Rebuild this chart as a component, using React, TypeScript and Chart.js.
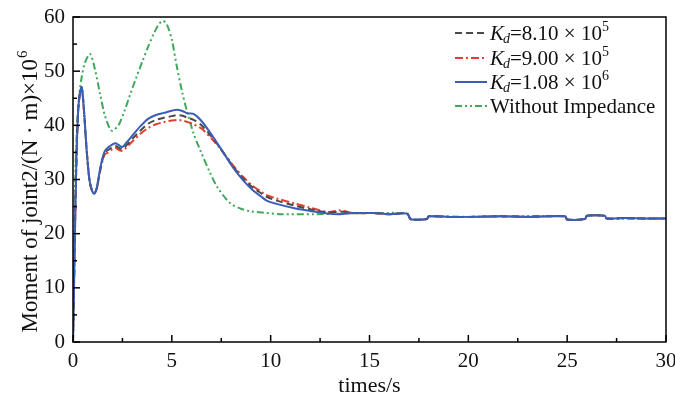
import React, { useEffect, useRef } from "react";
import { Chart, registerables } from "chart.js";

Chart.register(...registerables);

const timeKd = [0, 0.05, 0.15, 0.25, 0.35, 0.44, 0.55, 0.7, 0.85, 1.0, 1.08, 1.2, 1.4, 1.6, 1.8, 2.0, 2.15, 2.3, 2.5, 2.7, 3.0, 3.4, 3.8, 4.2, 4.6, 5.0, 5.25, 5.5, 5.8, 6.1, 6.5, 7.1, 7.6, 8.1, 8.6, 9.1, 9.5, 9.8, 10.3, 11.2, 12.0, 12.9, 13.5, 14.2, 15.2, 16.0, 16.9, 17.05, 17.15, 17.9, 18.0, 19, 20, 21.6, 23, 24.9, 25.0, 25.9, 26.0, 26.9, 27.0, 28, 29, 30];

const kd810 = [0, 10, 30, 42, 46, 47, 43, 35, 29.5, 27.6, 27.4, 28.3, 32.2, 34.9, 35.5, 36.0, 36.2, 35.9, 35.6, 36.3, 37.5, 39.0, 40.3, 41.0, 41.4, 41.7, 41.9, 41.8, 41.4, 41.0, 40.0, 37.5, 35.0, 32.4, 30.2, 28.5, 27.5, 26.8, 26.1, 25.2, 24.5, 23.9, 24.1, 23.8, 23.8, 23.6, 23.7, 22.8, 22.6, 22.7, 23.2, 23.1, 23.1, 23.2, 23.1, 23.2, 22.6, 22.7, 23.3, 23.3, 22.8, 22.9, 22.8, 22.8];

const kd900 = [0, 10, 30, 42, 46, 47, 43, 35, 29.5, 27.6, 27.4, 28.2, 32.0, 34.6, 35.0, 35.6, 35.8, 35.5, 35.3, 35.9, 37.0, 38.4, 39.5, 40.2, 40.6, 40.9, 41.0, 40.9, 40.6, 40.2, 39.4, 37.2, 35.0, 32.6, 30.5, 28.8, 27.8, 27.1, 26.5, 25.6, 24.8, 24.0, 24.3, 23.8, 23.8, 23.6, 23.7, 22.8, 22.6, 22.7, 23.2, 23.1, 23.1, 23.2, 23.1, 23.2, 22.6, 22.7, 23.3, 23.3, 22.8, 22.9, 22.8, 22.8];

const kd108 = [0, 10, 30, 42, 46, 47, 43, 35, 29.5, 27.6, 27.4, 28.5, 32.5, 35.2, 36.0, 36.5, 36.7, 36.4, 36.0, 36.8, 38.1, 39.8, 41.2, 41.9, 42.3, 42.7, 42.9, 42.7, 42.2, 42.1, 40.8, 37.8, 35.0, 32.2, 29.9, 28.0, 26.9, 26.1, 25.5, 24.7, 24.2, 23.7, 23.6, 23.8, 23.8, 23.6, 23.7, 22.8, 22.6, 22.7, 23.2, 23.1, 23.1, 23.2, 23.1, 23.2, 22.6, 22.7, 23.3, 23.3, 22.8, 22.9, 22.8, 22.8];

const timeFree = [0, 0.05, 0.15, 0.3, 0.44, 0.6, 0.86, 1.1, 1.37, 1.6, 1.88, 2.0, 2.3, 2.6, 2.9, 3.2, 3.5, 3.8, 4.1, 4.35, 4.55, 4.75, 5.0, 5.25, 5.5, 5.76, 6.1, 6.44, 6.9, 7.3, 7.96, 8.5, 9.0, 9.6, 10.5, 12.2, 13.5, 14.5, 15.2, 16.9, 17.05, 17.15, 17.9, 18, 20, 22, 24.9, 25, 25.9, 26, 26.9, 27, 30];
const freeVals = [0, 15, 35, 45, 48.9, 51.5, 53.2, 50.5, 45.8, 42, 39.2, 39.0, 40.0, 42.6, 45.8, 48.8, 51.7, 54.5, 57.0, 58.7, 59.3, 58.6, 55.8, 50.9, 46.5, 42.7, 38.5, 35.4, 31.5, 28.6, 25.6, 24.6, 24.1, 23.9, 23.6, 23.6, 23.7, 23.8, 23.8, 23.7, 22.8, 22.6, 22.7, 23.2, 23.1, 23.2, 23.2, 22.6, 22.7, 23.3, 23.3, 22.8, 22.8];

const xTicks = [0, 5, 10, 15, 20, 25, 30];
const yTicks = [0, 10, 20, 30, 40, 50, 60];
const legendMantissa = ["8.10", "9.00", "1.08"];
const legendExponent = ["5", "5", "6"];
const legendFree = "Without Impedance";
const yTitleMain = "Moment of joint2/(N · m)×10";
const yTitleSup = "6";

const FONT = '"Liberation Serif", "Times New Roman", serif';

const pts = (t: number[], v: number[]) => t.map((x, i) => ({ x, y: v[i] }));

const decor = {
  id: "decor",
  afterDatasetsDraw(chart: any) {
    const { ctx, chartArea: a, scales } = chart;
    const xs = scales.x, ys = scales.y;
    ctx.save();
    ctx.strokeStyle = "#000";
    ctx.lineWidth = 1.5;
    ctx.setLineDash([]);
    ctx.strokeRect(a.left, a.top, a.right - a.left, a.bottom - a.top);
    for (let v = 0; v <= 30; v += 2.5) {
      const px = xs.getPixelForValue(v);
      const len = v % 5 === 0 ? 7 : 4;
      ctx.beginPath();
      ctx.moveTo(px, a.bottom);
      ctx.lineTo(px, a.bottom - len);
      ctx.stroke();
    }
    for (let v = 0; v <= 60; v += 5) {
      const py = ys.getPixelForValue(v);
      const len = v % 10 === 0 ? 7 : 4;
      ctx.beginPath();
      ctx.moveTo(a.left, py);
      ctx.lineTo(a.left + len, py);
      ctx.stroke();
    }
    // y title
    ctx.save();
    ctx.fillStyle = "#111";
    ctx.translate(29, 192);
    ctx.rotate(-Math.PI / 2);
    ctx.font = `23px ${FONT}`;
    const wMain = ctx.measureText(yTitleMain).width;
    ctx.font = `15px ${FONT}`;
    const wSup = ctx.measureText(yTitleSup).width;
    const start = -(wMain + wSup) / 2;
    ctx.textBaseline = "alphabetic";
    ctx.textAlign = "left";
    ctx.font = `23px ${FONT}`;
    ctx.fillText(yTitleMain, start, 8);
    ctx.font = `15px ${FONT}`;
    ctx.fillText(yTitleSup, start + wMain + 1, -2);
    ctx.restore();
    // legend
    const ds = chart.data.datasets;
    const rows = [33, 58, 82, 106];
    const lx0 = 455, lx1 = 487, tx = 490;
    [0, 1, 2, 3].forEach((di, r) => {
      const d = ds[di];
      const y = rows[r];
      ctx.strokeStyle = d.borderColor;
      ctx.lineWidth = 2;
      ctx.setLineDash(d.borderDash || []);
      ctx.beginPath();
      ctx.moveTo(lx0, y);
      ctx.lineTo(lx1, y);
      ctx.stroke();
      ctx.setLineDash([]);
      ctx.fillStyle = "#111";
      ctx.textBaseline = "alphabetic";
      ctx.textAlign = "left";
      const base = y + 7;
      let x = tx;
      if (r < 3) {
        ctx.font = `italic 21px ${FONT}`;
        ctx.fillText("K", x, base);
        x += ctx.measureText("K").width - 1;
        ctx.font = `italic 14px ${FONT}`;
        ctx.fillText("d", x, base + 3);
        x += ctx.measureText("d").width;
        ctx.font = `21px ${FONT}`;
        const s = "=" + legendMantissa[r] + " × 10";
        ctx.fillText(s, x, base);
        x += ctx.measureText(s).width;
        ctx.font = `14px ${FONT}`;
        ctx.fillText(legendExponent[r], x, base - 9);
      } else {
        ctx.font = `21px ${FONT}`;
        ctx.fillText(legendFree, x, base);
      }
    });
    ctx.restore();
  },
};

export default function App() {
  const ref = useRef<HTMLCanvasElement>(null);
  useEffect(() => {
    const chart = new Chart(ref.current!, {
      type: "line",
      data: {
        datasets: [
          {
            label: "Kd=8.10e5",
            data: pts(timeKd, kd810),
            borderColor: "#4a4a4a",
            borderDash: [7, 4],
            borderWidth: 2,
            pointRadius: 0,
            tension: 0.3,
            order: 1,
          },
          {
            label: "Kd=9.00e5",
            data: pts(timeKd, kd900),
            borderColor: "#e0402e",
            borderDash: [8, 3, 2, 3],
            borderWidth: 2,
            pointRadius: 0,
            tension: 0.3,
            order: 2,
          },
          {
            label: "Kd=1.08e6",
            data: pts(timeKd, kd108),
            borderColor: "#3a5db5",
            borderWidth: 2,
            pointRadius: 0,
            tension: 0.3,
            order: 0,
          },
          {
            label: legendFree,
            data: pts(timeFree, freeVals),
            borderColor: "#3fa85a",
            borderDash: [7, 3, 2, 3, 2, 3],
            borderWidth: 2,
            pointRadius: 0,
            tension: 0.3,
            order: 3,
          },
        ],
      },
      options: {
        responsive: false,
        animation: false,
        devicePixelRatio: 1,
        layout: { padding: { top: 17, right: 9, left: 0, bottom: 0 } },
        plugins: { legend: { display: false }, tooltip: { enabled: false } },
        scales: {
          x: {
            type: "linear",
            min: 0,
            max: 30,
            afterBuildTicks: (s: any) => {
              s.ticks = xTicks.map((v) => ({ value: v }));
            },
            afterFit: (s: any) => {
              s.height = 61;
              s.paddingLeft = 0;
              s.paddingRight = 0;
            },
            grid: { display: false, drawTicks: false },
            border: { display: false },
            ticks: {
              color: "#111",
              font: { family: FONT, size: 21 },
              padding: 7,
              maxRotation: 0,
              autoSkip: false,
            },
            title: {
              display: true,
              text: "times/s",
              color: "#111",
              font: { family: FONT, size: 22 },
              padding: { top: 0, bottom: 4 },
            },
          },
          y: {
            type: "linear",
            min: 0,
            max: 60,
            afterBuildTicks: (s: any) => {
              s.ticks = yTicks.map((v) => ({ value: v }));
            },
            afterFit: (s: any) => {
              s.width = 73;
              s.paddingTop = 0;
              s.paddingBottom = 0;
            },
            grid: { display: false, drawTicks: false },
            border: { display: false },
            ticks: {
              color: "#111",
              font: { family: FONT, size: 21 },
              padding: 8,
              autoSkip: false,
            },
          },
        },
      },
      plugins: [decor],
    });
    return () => chart.destroy();
  }, []);
  return (
    <div style={{ position: "fixed", left: 0, top: 0, width: 675, height: 403, background: "#fff" }}>
      <canvas ref={ref} width={675} height={403} />
    </div>
  );
}
